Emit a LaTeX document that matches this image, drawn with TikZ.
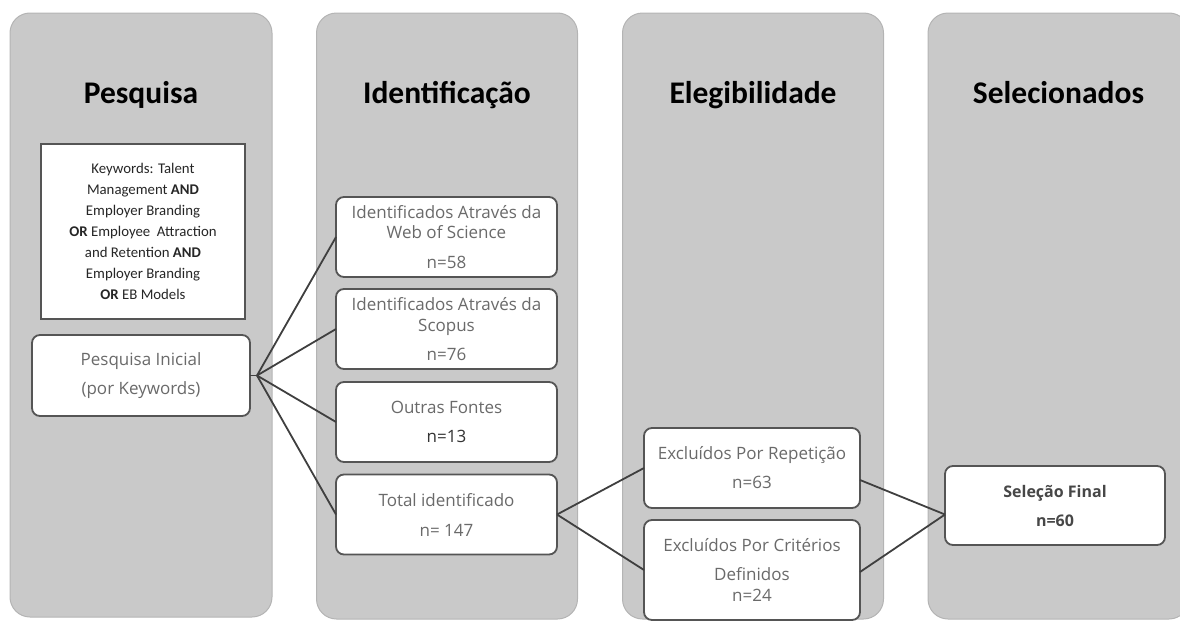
\documentclass[tikz,border=0pt]{standalone}
\usepackage{fontspec}
\setmainfont{Carlito}
\newfontfamily\boxfont{Open Sans}
\usetikzlibrary{positioning}

\definecolor{panelfill}{HTML}{C9C9C9}
\definecolor{paneledge}{HTML}{B4B4B4}
\definecolor{boxedge}{HTML}{555555}
\definecolor{boxtext}{HTML}{6A6A6A}
\definecolor{linkcol}{HTML}{3F3F3F}

\tikzset{
  panel/.style={fill=panelfill, draw=paneledge, line width=1pt,
    rounded corners=20pt, inner sep=0pt, outer sep=0pt},
  title/.style={font=\fontsize{31.5}{36}\selectfont\bfseries, text=black,
    inner sep=0pt, anchor=base},
  kwbox/.style={fill=white, draw=boxedge, line width=1.6pt, inner sep=0pt,
    outer sep=0pt, align=center, text=black!85,
    font=\fontsize{14.8}{21}\selectfont},
  rbox/.style={fill=white, draw=boxedge, line width=1.8pt, rounded corners=8pt,
    inner sep=0pt, outer sep=0pt, align=center, text=boxtext,
    font=\boxfont\fontsize{17}{20.5}\selectfont},
  link/.style={draw=linkcol, line width=1.8pt}
}

\begin{document}
\begin{tikzpicture}[x=1pt, y=-1pt]
\useasboundingbox (0,0) rectangle (1180,621);

% the four stage columns
\node[panel, minimum width=262pt, minimum height=604pt] (colA) at (141,315) {};
\node[panel, minimum width=261pt, minimum height=606pt] (colB) at (447,316) {};
\node[panel, minimum width=261pt, minimum height=606pt] (colC) at (753,316) {};
\node[panel, minimum width=261pt, minimum height=606pt] (colD) at (1058.5,316) {};

% column headings
\node[title] (tA) at (141,103) {Pesquisa};
\node[title] (tB) at (447,103) {Identificação};
\node[title] (tC) at (753,103) {Elegibilidade};
\node[title] (tD) at (1058.5,103) {Selecionados};

% search stage
\node[kwbox, minimum width=204pt, minimum height=175pt] (kw) at (143,231.5)
  {Keywords: Talent\\Management \textbf{AND}\\Employer Branding\\
   \textbf{OR} Employee\ \ Attraction\\and Retention \textbf{AND}\\
   Employer Branding\\\textbf{OR} EB Models};
\node[rbox, minimum width=218pt, minimum height=81pt] (ini) at (141,375.5)
  {Pesquisa Inicial\\[8.5pt](por Keywords)};

% identification stage
\node[rbox, minimum width=221pt, minimum height=80pt] (wos) at (446.5,237)
  {Identificados Através da\\Web of Science\\[9.5pt]n=58};
\node[rbox, minimum width=221pt, minimum height=80pt] (sco) at (446.5,329)
  {Identificados Através da\\Scopus\\[8.5pt]n=76};
\node[rbox, minimum width=221pt, minimum height=80pt] (out) at (446.5,422)
  {Outras Fontes\\[8.5pt]\textcolor{black!80}{n=13}};
\node[rbox, minimum width=221pt, minimum height=80pt] (tot) at (446.5,514.5)
  {Total identificado\\[9.5pt]n= 147};

% eligibility stage
\node[rbox, minimum width=216pt, minimum height=80pt] (rep) at (752,468)
  {Excluídos Por Repetição\\[8.5pt]n=63};
\node[rbox, minimum width=216pt, minimum height=100pt] (cri) at (752,570)
  {Excluídos Por Critérios\\[8pt]Definidos\\[0.5pt]n=24};

% selected
\node[rbox, minimum width=220pt, minimum height=79pt,
  font=\boxfont\bfseries\fontsize{16}{19.5}\selectfont, text=black!72] (sel)
  at (1055,505.5) {Seleção Final\\[9.5pt]n=60};

% connectors
\coordinate (hub) at ([xshift=7pt]ini.east);
\draw[link] (ini.east) -- (hub);
\draw[link] (hub) -- (wos.west);
\draw[link] (hub) -- (sco.west);
\draw[link] (hub) -- (out.west);
\draw[link] (hub) -- (tot.west);

\draw[link] (tot.east) -- (rep.west);
\draw[link] (tot.east) -- (cri.west);

\draw[link] ([yshift=-12pt]rep.east) -- ([yshift=-9pt]sel.west);
\draw[link] ([yshift=-2pt]cri.east) -- ([yshift=-9pt]sel.west);
\end{tikzpicture}
\end{document}
